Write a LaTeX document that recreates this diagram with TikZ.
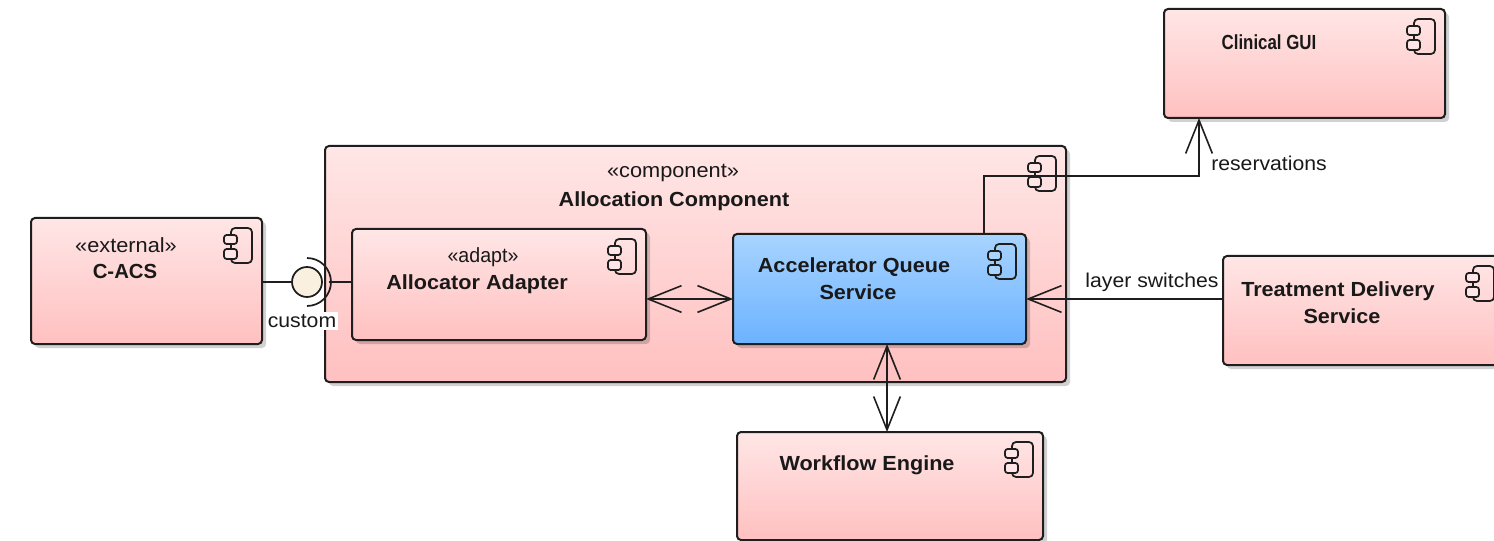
\documentclass[tikz,border=0pt]{standalone}
\usepackage{fontspec}
\setmainfont[FakeStretch=1.06]{Liberation Sans}
\usetikzlibrary{arrows.meta,calc,shadows}
\def\px{0.75pt}
\definecolor{ink}{HTML}{1E1E1E}
\definecolor{pinktop}{HTML}{FFE6E6}
\definecolor{pinkbot}{HTML}{FFC0C0}
\definecolor{bluetop}{HTML}{A8D4FF}
\definecolor{bluebot}{HTML}{6CB2FF}
\definecolor{ballfill}{HTML}{FAF0DF}
\tikzset{
  x=\px, y=-\px,
  compbox/.style={draw=ink,line width=1.5pt,rounded corners=3pt,outer sep=0pt,inner sep=0pt,
    top color=pinktop,bottom color=pinkbot,
    drop shadow={shadow xshift=3pt,shadow yshift=-3pt,opacity=.18,fill=black}},
  bluebox/.style={compbox,top color=bluetop,bottom color=bluebot},
  ttl/.style={font=\bfseries\fontsize{15.3}{20.5}\selectfont,align=center,text=black!90,inner sep=0pt},
  ster/.style={font=\fontsize{15.4}{20}\selectfont,align=center,text=black!90,inner sep=0pt},
  lbl/.style={font=\fontsize{15}{18}\selectfont,text=black!90,inner sep=1.5pt,fill=white},
  conn/.style={draw=ink,line width=1.3pt},
  openhead/.tip={Straight Barb[length=25pt,width=20pt,line width=1.2pt]},
}
\newcommand{\compicon}[2]{%
  \begin{scope}[shift={(#1.north east)},draw=ink,line width=1.3pt]
    \draw[rounded corners=3pt] (-31,10) rectangle (-10,45);
    \draw[rounded corners=2pt,fill=#2] (-38,17) rectangle (-25,26);
    \draw[rounded corners=2pt,fill=#2] (-38,31) rectangle (-25,41);
  \end{scope}}
\begin{document}
\begin{tikzpicture}
\useasboundingbox (0,0) rectangle (1494,541);
% boxes
\node[compbox,minimum width=231*\px,minimum height=126*\px] (cacs) at (146.5,281) {};
\node[compbox,minimum width=741*\px,minimum height=236*\px] (alloc) at (695.5,264) {};
\node[compbox,minimum width=294*\px,minimum height=111*\px] (adapter) at (499,284.5) {};
\node[bluebox,minimum width=293*\px,minimum height=110*\px] (aqs) at (879.5,289) {};
\node[compbox,minimum width=281*\px,minimum height=109*\px] (gui) at (1304.5,63.5) {};
\node[compbox,minimum width=281*\px,minimum height=109*\px] (tds) at (1363.5,310.5) {};
\node[compbox,minimum width=306*\px,minimum height=108*\px] (wf) at (890,486) {};
% icons
\compicon{cacs}{pinktop}
\compicon{alloc}{pinktop}
\compicon{adapter}{pinktop}
\compicon{aqs}{bluetop}
\compicon{gui}{pinktop}
\compicon{tds}{pinktop}
\compicon{wf}{pinktop}
% texts
\node[ster] (t1a) at (126,245.5) {«external»};
\node[ttl] (t1b) at (125,271.5) {\scalebox{0.94}[1]{C-ACS}};
\node[ster] (t2a) at (673,173) {«component»};
\node[ttl] (t2b) at (674,201) {Allocation Component};
\node[ster] (t3a) at (483,257) {\scalebox{0.9}[1]{«adapt»}};
\node[ttl] (t3b) at (477,284.5) {Allocator Adapter};
\node[ttl] (t4) at (854,279) {Accelerator Queue\\\hspace*{6pt}Service};
\node[ttl] (t5) at (1269,42) {\scalebox{0.78}[1]{Clinical GUI}};
\node[ttl] (t6) at (1338,303) {Treatment Delivery\\\hspace*{6pt}Service};
\node[ttl] (t7) at (867,465.5) {Workflow Engine};
% interface
\node[circle,draw=ink,line width=1.3pt,fill=ballfill,minimum size=30*\px,inner sep=0pt,outer sep=0pt] (ball) at (307,282) {};
\draw[conn] (cacs.east |- ball) -- (ball);
\coordinate (sockR) at (329,282);
\coordinate (sockT) at (307,258);
\draw[conn] (sockR) -- (adapter.west |- sockR);
\draw[conn] (sockT) arc[start angle=90,end angle=-90,radius=18pt];
% connector guide coordinates
\coordinate (resv) at (984,176);
\coordinate (guiX) at (1199,118);
\coordinate (rowY) at (0,299);
\coordinate (colX) at (887,0);
\draw[conn,-{openhead}] (aqs.north -| resv) -- (resv) -- (guiX |- resv) -- (gui.south -| guiX);
\draw[conn,{openhead}-{openhead}] (adapter.east |- rowY) -- (aqs.west |- rowY);
\draw[conn,-{openhead}] (tds.west |- rowY) -- (aqs.east |- rowY);
\draw[conn,{openhead}-{openhead}] (aqs.south -| colX) -- (wf.north -| colX);
% labels
\node[lbl] (l1) at (302,321) {custom};
\node[lbl] (l2) at (1152,282) {layer switches};
\node[lbl] (l3) at (1269,163.5) {reservations};
\end{tikzpicture}
\end{document}
